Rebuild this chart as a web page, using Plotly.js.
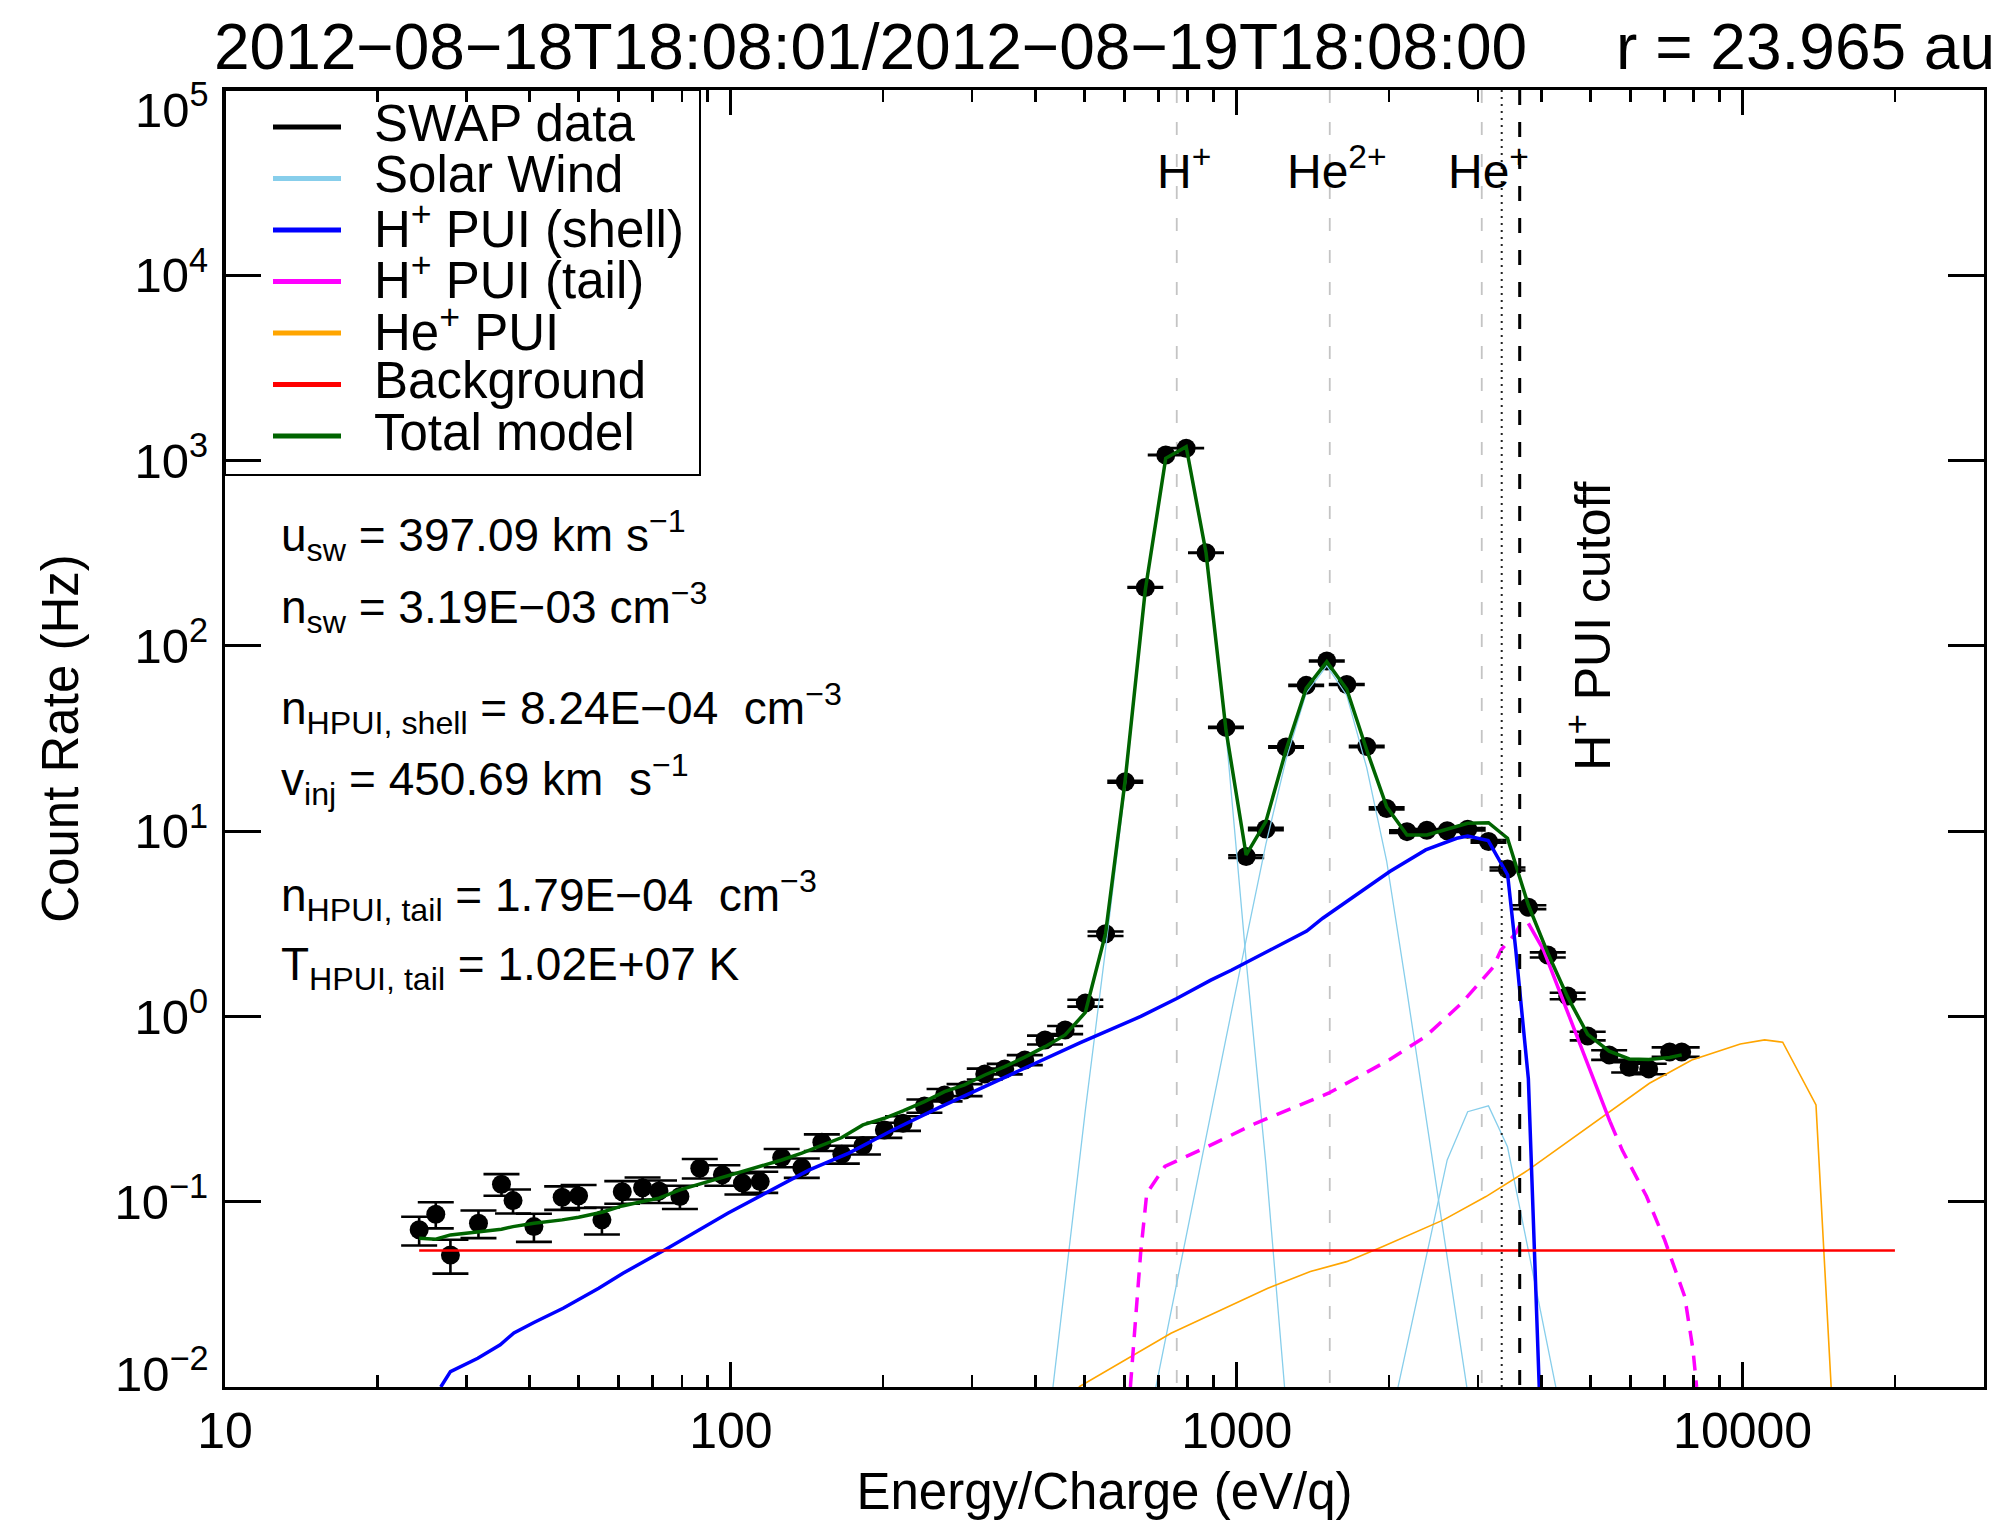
<!DOCTYPE html>
<html>
<head>
<meta charset="utf-8">
<script src="https://cdn.plot.ly/plotly-3.0.1.min.js"></script>
<style>
  html, body { margin: 0; padding: 0; background: #fff; }
  #chart { width: 2009px; height: 1520px; }
</style>
</head>
<body>
<div id="chart"></div>
<script>
// SWAP count-rate spectrum, 2012-08-18/19, with the fitted model components.

// Measured count rates (energy/charge in eV/q, rate in Hz, 1-sigma error in Hz)
const energy = [24.2, 26.1, 27.9, 31.7, 35.2, 37.1, 40.8, 46.4, 50.0, 55.6,
  61.0, 66.9, 72.1, 79.3, 86.8, 96.2, 105.4, 114.3, 126.0, 138.1,
  151.3, 165.7, 182.4, 201.1, 218.9, 241.3, 264.5, 289.7, 317.6, 347.8,
  381.1, 417.8, 457.9, 501.9, 550.3, 602.0, 659.5, 723.8, 794.3, 869.5,
  952.0, 1043.8, 1141.7, 1251.6, 1371.6, 1506.5, 1650.0, 1806.8, 1978.3, 2170.5,
  2375.6, 2606.3, 2860.9, 3145, 3429, 3771, 4119, 4510, 4940, 5447,
  5967, 6521, 7173, 7577];
const countRate = [0.0705, 0.0856, 0.0516, 0.0766, 0.1243, 0.1014, 0.0734, 0.1057, 0.1078, 0.0798,
  0.1133, 0.119, 0.1143, 0.1066, 0.1517, 0.1396, 0.126, 0.1284, 0.173, 0.1528,
  0.2094, 0.1805, 0.2008, 0.244, 0.2653, 0.3289, 0.377, 0.4012, 0.4895, 0.5208,
  0.5823, 0.7469, 0.8452, 1.18, 2.795, 18.48, 206.7, 1072, 1166, 318,
  36.3, 7.29, 10.28, 28.48, 61.2, 82.9, 61.8, 28.6, 13.26, 9.94,
  10.12, 10.06, 10.25, 8.80, 6.25, 3.885, 2.148, 1.29, 0.785, 0.620,
  0.532, 0.521, 0.643, 0.643];
const countErr = [0.0125, 0.0138, 0.0107, 0.013, 0.0166, 0.015, 0.0127, 0.0153, 0.0154, 0.0133,
  0.0158, 0.0162, 0.0159, 0.0153, 0.0183, 0.0176, 0.0167, 0.0168, 0.0195, 0.0184,
  0.0215, 0.02, 0.021, 0.023, 0.024, 0.027, 0.029, 0.030, 0.033, 0.034,
  0.036, 0.041, 0.043, 0.051, 0.079, 0.2, 0.68, 1.5, 1.6, 0.84,
  0.28, 0.127, 0.15, 0.25, 0.37, 0.43, 0.37, 0.25, 0.17, 0.15,
  0.15, 0.15, 0.15, 0.14, 0.12, 0.093, 0.069, 0.053, 0.042, 0.037,
  0.034, 0.034, 0.038, 0.038];

// Total model evaluated on the measurement energies
const modelTotal = [0.0635, 0.0627, 0.0662, 0.0685, 0.071, 0.0734, 0.0766, 0.0798, 0.0825, 0.0878,
  0.0949, 0.1002, 0.1045, 0.1158, 0.1243, 0.1355, 0.1454, 0.1547, 0.168, 0.1827,
  0.201, 0.222, 0.2597, 0.282, 0.309, 0.347, 0.393, 0.427, 0.483, 0.536,
  0.603, 0.687, 0.795, 1.05, 2.8, 19, 200, 1029, 1189, 318,
  35.2, 7.44, 11.25, 27.4, 59, 82.2, 58.3, 27.4, 13.55, 9.54,
  9.54, 10.2, 11.03, 11.1, 9.16, 3.98, 2.2, 1.27, 0.80, 0.65,
  0.59, 0.586, 0.60, 0.62];

// Solar wind: H+, He2+, He+ beams
const swHEnergy = [417.8, 457.9, 501.9, 550.3, 602.0, 659.5, 723.8, 794.3, 869.5, 952.0, 1043.8, 1141.7, 1251.6];
const swHRate = [0.0043, 0.036, 0.31, 2.3, 17.5, 200, 1025, 1185, 316, 34, 2.0, 0.16, 0.008];
const swHe2Energy = [659.5, 723.8, 794.3, 869.5, 952.0, 1043.8, 1141.7, 1251.6, 1371.6, 1506.5, 1650.0, 1806.8, 1978.3, 2170.5, 2375.6, 2606.3, 2860.9];
const swHe2Rate = [0.0052, 0.0186, 0.065, 0.22, 0.76, 2.6, 8.5, 24.4, 55.7, 78, 54, 22, 6.9, 1.36, 0.266, 0.05, 0.0093];
const swHe1Energy = [1978.3, 2170.5, 2375.6, 2606.3, 2860.9, 3145, 3429, 3771, 4119, 4510];
const swHe1Rate = [0.0052, 0.0168, 0.052, 0.168, 0.306, 0.329, 0.198, 0.054, 0.016, 0.0048];

// H+ pickup ions, shell distribution
const shellEnergy = [26.7, 27.9, 31.6, 35.0, 37.25, 40.8, 46.6, 54.8, 61.2, 74.4,
  98.6, 118.3, 142.6, 171.1, 209.0, 256.5, 314.8, 384.6, 489.5, 646.1,
  761.0, 888.5, 977.4, 1167, 1375, 1479, 2007, 2363, 2722, 2861,
  3141, 3432, 3512, 3560, 3771, 3876, 3962];
const shellRate = [0.01, 0.0121, 0.0143, 0.0169, 0.0196, 0.0223, 0.0266, 0.0341, 0.0411, 0.0554,
  0.0867, 0.113, 0.148, 0.183, 0.244, 0.32, 0.415, 0.536, 0.72, 1.0,
  1.25, 1.57, 1.78, 2.29, 2.89, 3.39, 6.05, 7.92, 9.15, 9.42,
  8.89, 5.8, 3.4, 2.3, 0.46, 0.056, 0.01];

// H+ pickup ions, suprathermal tail (solid over the fitted range)
const tailLowEnergy = [616.2, 645.7, 663.9, 720.9, 874.6, 1090, 1518, 2000, 2359, 2784, 3211, 3331, 3563, 3625];
const tailLowRate = [0.01, 0.053, 0.111, 0.155, 0.198, 0.265, 0.385, 0.582, 0.778, 1.18, 1.84, 2.29, 2.82, 3.1];
const tailFitEnergy = [3771, 4039, 5470];
const tailFitRate = [3.18, 2.29, 0.27];
const tailHighEnergy = [5470, 5780, 6456, 7012, 7682, 7980, 8110];
const tailHighRate = [0.27, 0.19, 0.107, 0.0622, 0.0308, 0.0158, 0.01];

// He+ pickup ions
const heEnergy = [487.3, 741.3, 1152, 1398, 1649, 1945, 2563, 3109, 3771, 4571, 5395, 6544, 7935, 9895, 11052, 12000, 13964, 14962];
const heRate = [0.01, 0.0195, 0.0341, 0.042, 0.0475, 0.0573, 0.0798, 0.1066, 0.1484, 0.2156, 0.3003, 0.436, 0.582, 0.71, 0.747, 0.726, 0.333, 0.01];

// Flat background
const bgEnergy = [24.2, 20000];
const bgRate = [0.0545, 0.0545];

// Expected solar-wind energies and cutoffs
const ionLabels = ['H<sup>+</sup>', 'He<sup>2+</sup>', 'He<sup>+</sup>'];
const ionEnergy = [761, 1527, 3050];
const dottedCutoffEnergy = 3340;
const hPuiCutoffEnergy = 3625;

// Axis ticks
const xTickVals = [10, 100, 1000, 10000];
const xTickText = ['10', '100', '1000', '10000'];
const yTickVals = [1e-2, 1e-1, 1, 10, 100, 1e3, 1e4, 1e5];
const yTickText = ['10<sup>−2</sup>', '10<sup>−1</sup>', '10<sup>0</sup>', '10<sup>1</sup>',
  '10<sup>2</sup>', '10<sup>3</sup>', '10<sup>4</sup>', '10<sup>5</sup>'];

// Legend entries
const legendNames = ['SWAP data', 'Solar Wind', 'H<sup>+</sup> PUI (shell)', 'H<sup>+</sup> PUI (tail)',
  'He<sup>+</sup> PUI', 'Background', 'Total model'];
const legendColors = ['#000000', '#87ceeb', '#0000ff', '#ff00ff', '#ffa500', '#ff0000', '#006400'];

// Fit parameters
const fitParams = [
  'u<sub>sw</sub> = 397.09 km s<sup>−1</sup>',
  'n<sub>sw</sub> = 3.19E−03 cm<sup>−3</sup>',
  'n<sub>HPUI, shell</sub> = 8.24E−04\u00a0\u00a0cm<sup>−3</sup>',
  'v<sub>inj</sub> = 450.69 km\u00a0\u00a0s<sup>−1</sup>',
  'n<sub>HPUI, tail</sub> = 1.79E−04\u00a0\u00a0cm<sup>−3</sup>',
  'T<sub>HPUI, tail</sub> = 1.02E+07 K'
];

const titleText = '2012−08−18T18:08:01/2012−08−19T18:08:00\u00a0\u00a0\u00a0\u00a0\u00a0r = 23.965 au';

const FONT = 'Liberation Sans, Arial, Helvetica, sans-serif';
const Y_MIN = 1e-2, Y_MAX = 1e5;

const traces = [];

// vertical reference lines for the solar wind species
ionEnergy.forEach(e => traces.push({
  x: [e, e], y: [Y_MAX, Y_MIN], mode: 'lines',
  line: { color: '#c4c4c4', width: 1.8, dash: '13px,19px' }
}));

// measurements
traces.push({
  x: energy, y: countRate, mode: 'markers', name: 'SWAP data',
  marker: { color: '#000', size: 19 },
  error_y: { type: 'data', array: countErr, visible: true, color: '#000', thickness: 2.6, width: 18 }
});

// solar wind beams
[[swHEnergy, swHRate], [swHe2Energy, swHe2Rate], [swHe1Energy, swHe1Rate]].forEach(([ex, ry]) => traces.push({
  x: ex, y: ry, mode: 'lines', name: 'Solar Wind',
  line: { color: '#87ceeb', width: 1.3 }
}));

traces.push({ x: heEnergy, y: heRate, mode: 'lines', name: 'He+ PUI', line: { color: '#ffa500', width: 1.6 } });
traces.push({ x: tailLowEnergy, y: tailLowRate, mode: 'lines', line: { color: '#ff00ff', width: 3.5, dash: '15px,10px' } });
traces.push({ x: tailFitEnergy, y: tailFitRate, mode: 'lines', name: 'H+ PUI (tail)', line: { color: '#ff00ff', width: 3.5 } });
traces.push({ x: tailHighEnergy, y: tailHighRate, mode: 'lines', line: { color: '#ff00ff', width: 3.5, dash: '15px,10px' } });
traces.push({ x: shellEnergy, y: shellRate, mode: 'lines', name: 'H+ PUI (shell)', line: { color: '#0000ff', width: 3.5 } });
traces.push({ x: bgEnergy, y: bgRate, mode: 'lines', name: 'Background', line: { color: '#ff0000', width: 2.5 } });
traces.push({ x: energy, y: modelTotal, mode: 'lines', name: 'Total model', line: { color: '#006400', width: 3.5 } });

// cutoff markers
traces.push({ x: [dottedCutoffEnergy, dottedCutoffEnergy], y: [Y_MAX, Y_MIN], mode: 'lines',
  line: { color: '#222', width: 2, dash: '2px,5px' } });
traces.push({ x: [hPuiCutoffEnergy, hPuiCutoffEnergy], y: [Y_MAX, Y_MIN], mode: 'lines',
  line: { color: '#000', width: 3, dash: '15px,17px' } });

traces.forEach(t => { t.showlegend = false; t.hoverinfo = 'skip'; });

// plot-area geometry in pixels
const W = 2009, H = 1520;
const M = { l: 225, r: 25, t: 90, b: 133 };
const plotW = W - M.l - M.r, plotH = H - M.t - M.b;
const px2paperX = px => (px - M.l) / plotW;
const px2paperY = py => (H - M.b - py) / plotH;

// x minor ticks at 2..9 of every decade
const minorVals = [];
for (let d = 10; d <= 10000; d *= 10) for (let k = 2; k <= 9; k++) if (k * d < 30000) minorVals.push(k * d);

const shapes = [];
const annotations = [];

// legend box
shapes.push({ type: 'rect', xref: 'paper', yref: 'paper',
  x0: 0, x1: px2paperX(700), y0: px2paperY(475), y1: 1,
  line: { color: '#000', width: 2 }, fillcolor: 'rgba(255,255,255,0)' });
legendNames.forEach((name, i) => {
  const cy = 127 + i * 51.5;
  shapes.push({ type: 'line', xref: 'paper', yref: 'paper',
    x0: px2paperX(273), x1: px2paperX(341), y0: px2paperY(cy), y1: px2paperY(cy),
    line: { color: legendColors[i], width: 5 } });
  annotations.push({ xref: 'paper', yref: 'paper', x: px2paperX(372), y: px2paperY(cy - 4),
    xanchor: 'left', yanchor: 'middle', showarrow: false, text: name,
    font: { family: FONT, size: 51, color: '#000' } });
});

// fit parameter block
const paramRows = [535.7, 607.3, 708, 779, 895.7, 967.3];
fitParams.forEach((txt, i) => annotations.push({
  xref: 'paper', yref: 'paper', x: px2paperX(279), y: px2paperY(paramRows[i]),
  xanchor: 'left', yanchor: 'middle', showarrow: false, text: txt,
  font: { family: FONT, size: 46, color: '#000' }
}));

// species labels above the reference lines
ionEnergy.forEach((e, i) => annotations.push({
  xref: 'x', yref: 'paper', x: Math.log10(e), xshift: 7, y: px2paperY(168),
  xanchor: 'center', yanchor: 'middle', showarrow: false, text: ionLabels[i],
  font: { family: FONT, size: 48, color: '#000' }
}));

// cutoff label
annotations.push({
  xref: 'x', yref: 'paper', x: Math.log10(hPuiCutoffEnergy), xshift: 69, y: px2paperY(626),
  xanchor: 'center', yanchor: 'middle', showarrow: false, textangle: -90,
  text: 'H<sup>+</sup> PUI cutoff', font: { family: FONT, size: 50, color: '#000' }
});

// the end labels of the count-rate axis are kept inside the axis span
const yTickShown = yTickText.slice();
yTickShown[0] = '';
yTickShown[yTickShown.length - 1] = '';
[[0, yTickText[0], 17], [1, yTickText[yTickText.length - 1], -16]].forEach(([py, txt, shift]) => annotations.push({
  xref: 'paper', yref: 'paper', x: 0, y: py, xshift: -14, yshift: shift,
  xanchor: 'right', yanchor: 'middle', showarrow: false, text: txt,
  font: { family: FONT, size: 49, color: '#000' }
}));

const layout = {
  width: W, height: H,
  margin: M,
  paper_bgcolor: '#fff', plot_bgcolor: '#fff',
  font: { family: FONT, color: '#000' },
  showlegend: false,
  title: {
    text: titleText, font: { family: FONT, size: 64, color: '#000' },
    xref: 'paper', x: 0.5, xanchor: 'center', yref: 'container', y: 1 - 47 / H, yanchor: 'middle'
  },
  xaxis: {
    type: 'log', range: [1, Math.log10(30000)],
    tickmode: 'array', tickvals: xTickVals, ticktext: xTickText,
    ticks: 'inside', ticklen: 25, tickwidth: 3, tickcolor: '#000',
    minor: { tickmode: 'array', tickvals: minorVals, ticks: 'inside', ticklen: 12, tickwidth: 2.5, tickcolor: '#000' },
    showline: true, linewidth: 3, linecolor: '#000', mirror: 'allticks',
    showgrid: false, zeroline: false,
    tickfont: { family: FONT, size: 50, color: '#000' }, ticklabelstandoff: -2,
    title: { text: 'Energy/Charge (eV/q)', font: { family: FONT, size: 51, color: '#000' }, standoff: 36 }
  },
  yaxis: {
    type: 'log', range: [-2, 5],
    tickmode: 'array', tickvals: yTickVals, ticktext: yTickShown,
    ticks: 'inside', ticklen: 36, tickwidth: 3, tickcolor: '#000',
    showline: true, linewidth: 3, linecolor: '#000', mirror: 'allticks',
    showgrid: false, zeroline: false,
    tickfont: { family: FONT, size: 49, color: '#000' }, ticklabelstandoff: 4,
    title: { text: 'Count Rate (Hz)', font: { family: FONT, size: 51, color: '#000' }, standoff: 20 }
  },
  shapes: shapes,
  annotations: annotations
};

Plotly.newPlot('chart', traces, layout, { displayModeBar: false, staticPlot: true });
</script>
</body>
</html>
